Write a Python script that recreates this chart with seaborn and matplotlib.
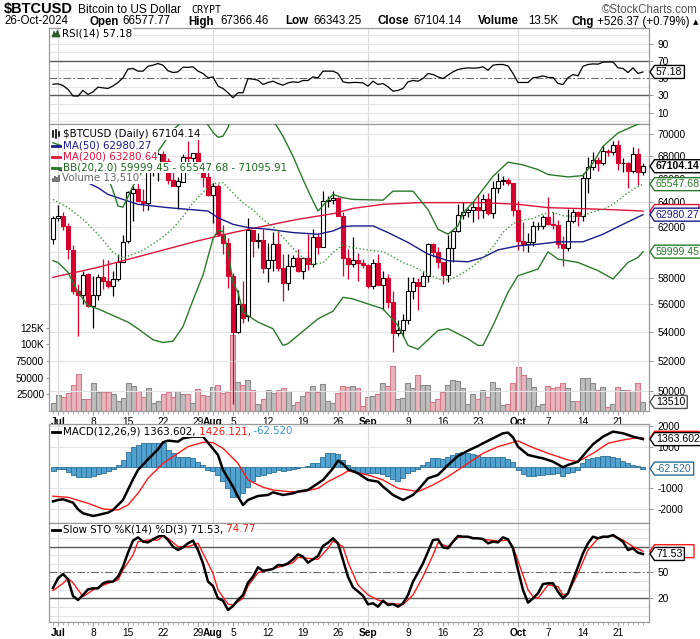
import numpy as np
import pandas as pd
import matplotlib
matplotlib.use("Agg")
import matplotlib.pyplot as plt
import seaborn as sns
from matplotlib.patches import Polygon, Rectangle
from matplotlib.lines import Line2D
from matplotlib.transforms import IdentityTransform
from matplotlib.ticker import NullLocator

# ---------------- data ----------------
start = pd.Timestamp("2024-06-30")
dates = pd.date_range("2024-06-30", "2024-10-26")

opens = [60999, 62673, 62845, 62034, 60148, 56997, 56659, 58240, 55850, 56705,
         58034, 57725, 57344, 57899, 59225, 60815, 64784, 65092, 64104, 63972,
         66709, 67164, 68153, 67585, 65928, 65376, 65771, 67911, 67809, 68259,
         66820, 66201, 64626, 65353, 61414, 60677, 58110, 53991, 56034, 55125,
         61728, 60881, 60945, 58719, 59356, 60611, 58733, 57561, 58889, 59478,
         58480, 59493, 59015, 61168, 60380, 64103, 64176, 64342, 62879, 59507,
         59027, 59388, 59117, 58969, 57326, 59107, 57430, 57971, 56160, 53949,
         54147, 54851, 57021, 57650, 57343, 58130, 60569, 60001, 59186, 58192,
         60310, 61652, 62941, 63184, 63348, 63580, 63339, 64263, 63138, 65180,
         65792, 65889, 65634, 63336, 60836, 60643, 60755, 62068, 62085, 62819,
         62225, 62132, 60581, 60274, 62446, 63192, 62849, 66050, 67042, 67617,
         67420, 68418, 68364, 69002, 67365, 67374, 66656, 68164, 66577.77]
highs = [62893, 63777, 63203, 62288, 60499, 57490, 58472, 58371, 58131, 58239,
         59434, 59359, 58527, 59850, 61329, 64950, 65354, 66066, 65113, 67442,
         67599, 68372, 68480, 67811, 67102, 66159, 68188, 69399, 68319, 70079,
         66987, 66810, 65660, 65596, 62148, 61064, 58310, 57059, 57726, 62673,
         61750, 61464, 61778, 60680, 61572, 61687, 59848, 59817, 59707, 60236,
         59612, 61396, 61820, 61408, 64947, 64513, 64996, 64489, 63210, 60236,
         61184, 59896, 59432, 59062, 59403, 59815, 58519, 58300, 56976, 54838,
         55301, 58042, 58029, 57991, 58534, 60648, 60657, 60381, 59186, 61316,
         61757, 63850, 64067, 63543, 64001, 64745, 64688, 64817, 65790, 66482,
         66255, 66068, 65635, 64130, 62357, 61470, 62464, 62371, 62974, 64479,
         63176, 62543, 61236, 63417, 63473, 63294, 66482, 67881, 68376, 67912,
         68969, 68667, 69400, 69488, 67816, 67449, 68841, 68708, 67366.46]
lows = [60632, 62495, 61753, 59419, 56777, 53717, 56038, 55793, 54321, 56317,
        57169, 57178, 56616, 57756, 59225, 60704, 62487, 64493, 63246, 63329,
        66222, 65842, 66591, 65546, 65461, 63456, 65732, 66705, 67066, 66482,
        65323, 64532, 62303, 61235, 59837, 57210, 49121, 53973, 54620, 54766,
        59587, 60287, 58348, 57689, 58506, 58472, 56227, 57098, 58786, 58442,
        57864, 58610, 58784, 59815, 60372, 63619, 63833, 62849, 58116, 57890,
        58786, 57768, 58745, 57218, 57136, 57425, 55607, 55712, 52598, 53745,
        53653, 54598, 56419, 55567, 57330, 57650, 59621, 58696, 57515, 57628,
        59210, 61566, 62637, 62784, 62409, 62602, 62700, 62947, 62670, 64810,
        65458, 65432, 62873, 60164, 60044, 59985, 60459, 61689, 61827, 62129,
        61846, 60304, 58895, 60085, 62284, 62058, 62442, 64809, 66758, 66647,
        67177, 68024, 68102, 66808, 66580, 65225, 66503, 65505, 66343.25]
closes = [62678, 62851, 62029, 60173, 56977, 56663, 58230, 55857, 56715, 58052,
          57725, 57344, 57899, 59231, 60787, 64870, 65097, 64118, 63974, 66710,
          67164, 68155, 67586, 65928, 65368, 65778, 67912, 67814, 68255, 66819,
          66201, 64620, 65357, 61416, 60680, 58116, 53991, 56034, 55027, 61710,
          60881, 60945, 58719, 59354, 60609, 58737, 57560, 58894, 59478, 58483,
          59493, 59012, 61175, 60381, 64094, 64178, 64333, 62880, 59504, 59027,
          59388, 59119, 58969, 57326, 59112, 57431, 57971, 56160, 53949, 54139,
          54842, 57019, 57648, 57343, 58127, 60571, 60005, 59182, 58192, 60309,
          61649, 62940, 63193, 63348, 63579, 63339, 64262, 63143, 65181, 65790,
          65887, 65635, 63329, 60837, 60632, 60759, 62067, 62089, 62818, 62236,
          62131, 60582, 60275, 62445, 63193, 62851, 66046, 67041, 67612, 67399,
          68418, 68362, 69001, 67368, 67377, 66684, 68161, 66642, 67104.14]
volumes = [11500, 24000, 21500, 26500, 39000, 55500, 18000, 18000, 41500, 29000,
           28000, 29000, 25000, 15000, 19000, 41500, 37500, 30000, 21500, 34000,
           12500, 15000, 25000, 29000, 21500, 30000, 25000, 26000, 11500, 33000,
           24000, 22500, 36000, 39000, 26500, 28000, 114000, 44000, 39000, 46500,
           31500, 10000, 18000, 31500, 26500, 31500, 34000, 30000, 9000, 14000,
           23000, 29000, 37500, 29000, 41000, 15000, 11500, 26500, 38000, 36000,
           37500, 34000, 7500, 21500, 23000, 25000, 42000, 38000, 67500, 17500,
           19000, 42000, 34000, 54000, 39000, 39000, 14000, 18000, 29000, 39000,
           46500, 45000, 34000, 10000, 25000, 18000, 31000, 21500, 43000, 34000,
           9000, 10000, 41500, 65500, 54000, 49000, 36500, 8000, 10000, 38000,
           34000, 35500, 41500, 34000, 15000, 15000, 49000, 50000, 42000, 31500,
           35500, 6500, 10000, 35500, 31500, 31500, 30000, 41500, 13510]

ma50_dates = ["06-30", "07-03", "07-07", "07-09", "07-11", "07-14", "07-17", "07-23", "07-27",
              "07-31", "08-02", "08-05", "08-08", "08-12", "08-17", "08-22", "08-25", "08-27",
              "08-29", "09-02", "09-05", "09-09", "09-13", "09-17", "09-21", "09-24", "09-27",
              "10-01", "10-05", "10-09", "10-14", "10-18", "10-22", "10-26"]
ma50 = [67000, 66500, 65660, 65240, 64670, 64250, 63840, 63560, 63420,
        63280, 62730, 62190, 61920, 61790, 61520, 61390, 61650, 62000,
        62060, 62060, 61520, 60730, 59810, 59290, 59210, 59550, 60140,
        60460, 60590, 60780, 60780, 61390, 62190, 62980.27]

ma200_dates = ["06-30", "07-09", "07-19", "07-29", "08-05", "08-12", "08-18", "08-25", "08-29",
               "09-04", "09-11", "09-17", "09-24", "10-01", "10-07", "10-14", "10-21", "10-26"]
ma200 = [58020, 58780, 59810, 60860, 61520, 62110, 62600, 63060, 63500,
         63840, 63980, 63980, 63980, 63840, 63560, 63480, 63370, 63280.64]

bbu_dates = ["06-30", "07-03", "07-06", "07-09", "07-11", "07-12", "07-13", "07-14", "07-16",
             "07-18", "07-20", "07-22", "07-24", "07-26", "07-28", "07-30", "08-01", "08-02",
             "08-03", "08-04", "08-05", "08-08", "08-11", "08-13", "08-15", "08-17", "08-19",
             "08-21", "08-22", "08-25", "08-27", "08-29", "09-04", "09-06", "09-10", "09-13",
             "09-15", "09-17", "09-19", "09-20", "09-22", "09-24", "09-26", "09-29", "10-02",
             "10-05", "10-07", "10-11", "10-14", "10-16", "10-18", "10-21", "10-24", "10-26"]
bb_upper = [69200, 68700, 68700, 67100, 66100, 65000, 63700, 63600, 65380,
            66800, 67780, 69070, 70370, 71230, 71680, 71500, 70150, 69700,
            69800, 70600, 72000, 73000, 72500, 71300, 69790, 67990, 65950,
            64110, 63280, 64670, 64390, 64250, 64190, 64950, 64950, 63400,
            61790, 61390, 62060, 63140, 63980, 65100, 66230, 67460, 67220,
            66810, 66380, 66170, 66290, 67390, 68880, 70090, 70700, 71095.91]

bbm_dates = ["06-30", "07-03", "07-06", "07-09", "07-12", "07-14", "07-16", "07-18", "07-20",
             "07-22", "07-24", "07-26", "07-28", "07-30", "08-01", "08-03", "08-05", "08-07",
             "08-09", "08-11", "08-13", "08-15", "08-17", "08-19", "08-21", "08-23", "08-25",
             "08-27", "08-29", "09-01", "09-04", "09-06", "09-08", "09-10", "09-13", "09-16",
             "09-18", "09-20", "09-22", "09-24", "09-26", "09-28", "09-30", "10-02", "10-04",
             "10-06", "10-08", "10-10", "10-12", "10-14", "10-16", "10-18", "10-20", "10-22",
             "10-24", "10-26"]
bb_mid = [64250, 63560, 62600, 61390, 59940, 59500, 59800, 60110, 60620,
          61170, 61870, 62810, 63990, 64850, 65590, 65690, 64800, 63950,
          63380, 62580, 62010, 61140, 60260, 59510, 59020, 59130, 59950,
          60520, 60310, 60130, 60010, 59600, 59150, 58870, 58240, 57780,
          57950, 58360, 58880, 59490, 60400, 61540, 62250, 62550, 62660,
          63040, 63160, 62900, 62830, 62900, 63210, 63420, 63840, 64500,
          65110, 65547.68]

bbl_dates = ["06-30", "07-01", "07-03", "07-05", "07-07", "07-09", "07-12", "07-15", "07-17",
             "07-20", "07-22", "07-24", "07-26", "07-28", "07-30", "08-01", "08-02", "08-03",
             "08-04", "08-05", "08-06", "08-07", "08-10", "08-13", "08-15", "08-16", "08-18",
             "08-22", "08-25", "08-27", "08-29", "08-31", "09-04", "09-07", "09-09", "09-11",
             "09-15", "09-17", "09-21", "09-23", "09-24", "09-26", "09-29", "10-01", "10-05",
             "10-07", "10-09", "10-13", "10-17", "10-20", "10-23", "10-25", "10-26"]
bb_lower = [59290, 59160, 58400, 56890, 55910, 55670, 55190, 54710, 54240,
            53460, 53270, 53370, 54390, 56310, 58200, 61030, 61700, 61600,
            60100, 57600, 56890, 55430, 54710, 54240, 53070, 53190, 53770,
            54950, 55500, 56520, 56400, 56150, 55670, 54470, 53070, 52800,
            54120, 54240, 53530, 53070, 53070, 54470, 56890, 58140, 58650,
            59990, 59420, 59160, 58530, 57890, 59160, 59550, 59999.45]

rsi = [43, 43.5, 41.5, 37, 29.5, 29.2, 35.8, 31.2, 34.2, 39.6,
       38.8, 38.1, 41, 45, 50.4, 60.5, 61.2, 58.1, 58.1, 63.8,
       65, 66.9, 65, 58.5, 56.5, 57.3, 62.7, 62.5, 63.1, 58.1,
       55.4, 50.4, 51.5, 40.8, 38.1, 33.1, 27.3, 33.1, 33.1, 49.6,
       48.8, 47.7, 42.7, 45, 46.5, 43.8, 41.9, 44.6, 45.8, 45,
       47.3, 47.3, 51.5, 50.4, 58.1, 58.1, 58.1, 55.4, 45.8, 44.6,
       45, 45, 44.5, 40.8, 46.5, 42.7, 43.8, 40, 35, 35.8,
       38.1, 45.8, 47.3, 46.5, 49.6, 55.4, 54.2, 51.5, 49.6, 53.5,
       57.3, 60, 61.2, 61.9, 61.5, 61.9, 63.1, 59.2, 65, 65.8,
       65.8, 64.2, 55.4, 45, 45, 45, 50.4, 51.2, 52.7, 50.8,
       50.8, 43.8, 42.7, 50.4, 54.2, 52.7, 63.8, 65.8, 66.5, 66.2,
       68.5, 68.8, 68.8, 61.9, 61.2, 56.5, 61.9, 55.4, 57.18]

macd_dates = ["06-30", "07-01", "07-02", "07-04", "07-05", "07-06", "07-08", "07-09", "07-11",
              "07-12", "07-14", "07-16", "07-17", "07-19", "07-21", "07-22", "07-23", "07-25",
              "07-26", "07-28", "07-30", "07-31", "08-02", "08-03", "08-05", "08-06", "08-07",
              "08-08", "08-10", "08-12", "08-13", "08-15", "08-17", "08-18", "08-20", "08-22",
              "08-23", "08-25", "08-26", "08-27", "08-28", "08-30", "09-01", "09-03", "09-04",
              "09-06", "09-08", "09-10", "09-11", "09-13", "09-15", "09-17", "09-19", "09-21",
              "09-23", "09-24", "09-26", "09-28", "09-29", "09-30", "10-01", "10-03", "10-05",
              "10-06", "10-08", "10-10", "10-11", "10-13", "10-15", "10-16", "10-18", "10-20",
              "10-22", "10-23", "10-24", "10-26"]
macd = [-1650, -1581, -1548, -1710, -2032, -2226, -2355, -2306, -2194,
        -2065, -1581, -581, -129, 387, 871, 1210, 1290, 1242,
        1403, 1484, 1484, 1194, 597, -129, -935, -1419, -1823,
        -1581, -1387, -1339, -1210, -1339, -1258, -1177, -1097, -774,
        -613, -48, 323, 161, -97, -290, -613, -694, -935,
        -1339, -1581, -1339, -1097, -532, -371, 113, 548, 806,
        1032, 1161, 1403, 1645, 1677, 1452, 1000, 597, 484,
        435, 274, 0, 113, 274, 839, 1113, 1484, 1726,
        1645, 1565, 1484, 1363.602]

signal_dates = ["06-30", "07-03", "07-07", "07-10", "07-13", "07-15", "07-17", "07-19", "07-22",
                "07-25", "07-27", "07-30", "08-01", "08-03", "08-06", "08-08", "08-11", "08-13",
                "08-16", "08-19", "08-22", "08-24", "08-27", "08-28", "09-01", "09-04", "09-07",
                "09-11", "09-14", "09-17", "09-21", "09-24", "09-27", "10-01", "10-04", "10-07",
                "10-11", "10-13", "10-16", "10-19", "10-22", "10-24", "10-26"]
signal = [-1400, -1452, -1742, -2016, -2065, -1823, -1258, -532, 194,
          677, 1000, 1210, 1194, 919, 194, -613, -968, -1097,
          -1177, -1177, -1016, -694, -323, -170, -371, -613, -1016,
          -1177, -855, -452, 194, 677, 1000, 1274, 952, 677,
          355, 274, 677, 1161, 1323, 1403, 1426.121]

macd_hist = [-161, -97, -97, -210, -371, -484, -484, -452, -419, -323,
             -290, -177, -97, 113, 355, 758, 1000, 1081, 1161, 1161,
             1194, 1194, 1161, 839, 710, 484, 484, 484, 435, 274,
             113, -129, -177, -371, -645, -1016, -1452, -1452, -1258, -968,
             -645, -419, -371, -290, -210, -129, -161, -129, -97, -48,
             32, 65, 194, 226, 516, 677, 710, 645, 355, 113,
             -129, -210, -258, -290, -290, -290, -323, -403, -581, -645,
             -532, -290, -161, -65, 113, 274, 435, 435, 387, 516,
             597, 710, 742, 710, 661, 597, 484, 484, 484, 484,
             484, 387, 274, -129, -323, -403, -403, -371, -371, -323,
             -323, -290, -403, -290, -210, -129, 194, 387, 435, 516,
             565, 548, 516, 468, 323, 226, 113, 65, -62.52]

sto_k = [32, 43.2, 48.3, 42.1, 22.7, 18.1, 23.9, 30.4, 31.6, 31.6,
         37.4, 39.4, 39.4, 45.2, 56.8, 73, 87, 90.8, 85.8, 85,
         88.5, 91.6, 93.5, 87.7, 80, 76.1, 79.2, 83.9, 87, 76.1,
         60.6, 39.4, 34.3, 20, 17.3, 6.4, 11.1, 18.1, 23.9, 38.2,
         45.2, 56, 52.1, 52.9, 54.1, 58.7, 58.3, 60.6, 65.3, 71.1,
         68.4, 61.4, 65.3, 69.2, 80.8, 84.6, 89.7, 83.9, 64.5, 45,
         32.8, 28, 23, 13, 14.2, 10.3, 17.3, 12.2, 13.4, 10.3,
         14.2, 23.9, 39.4, 49.8, 60.6, 74.2, 87.7, 88.5, 79.2, 78.1,
         85.8, 92.4, 91.6, 91.6, 89.7, 89.7, 88.9, 83.9, 85.8, 85,
         90.8, 88.5, 78.1, 52.9, 29.7, 15, 20, 25.8, 36.6, 37.4,
         37.4, 27.7, 20, 25.8, 41.3, 56.8, 72.3, 83.9, 91.6, 89.7,
         91.6, 91.6, 93.5, 89.7, 85.8, 76.1, 78.1, 73, 71.53]

sto_d_dates = ["06-30", "07-02", "07-03", "07-04", "07-06", "07-07", "07-08", "07-09", "07-11",
               "07-13", "07-14", "07-16", "07-17", "07-19", "07-21", "07-22", "07-23", "07-25",
               "07-27", "07-29", "07-30", "08-01", "08-02", "08-04", "08-05", "08-07", "08-08",
               "08-10", "08-12", "08-15", "08-17", "08-18", "08-20", "08-22", "08-24", "08-25",
               "08-27", "08-28", "08-30", "09-01", "09-03", "09-05", "09-07", "09-08", "09-10",
               "09-12", "09-14", "09-15", "09-17", "09-19", "09-21", "09-24", "09-27", "09-29",
               "09-30", "10-02", "10-03", "10-04", "10-05", "10-07", "10-09", "10-10", "10-11",
               "10-13", "10-15", "10-17", "10-20", "10-22", "10-24", "10-26"]
sto_d = [29, 37.4, 43.2, 38, 21.9, 25.8, 29.7, 32.8, 37.4,
         41.3, 52.9, 70.3, 85.8, 87.7, 87.7, 92.4, 89.7, 80,
         80, 83.9, 72.3, 49, 29.7, 13.4, 12.2, 20, 34.3,
         49.8, 52.9, 57.5, 61.4, 67.6, 66.5, 65.3, 78.1, 86.6,
         80, 62, 35.5, 23.9, 18.1, 14.2, 13.4, 12.6, 23.9,
         45.2, 70.3, 84.6, 80, 90.8, 91.6, 88.5, 86.6, 87.7,
         80, 47, 30, 21.9, 20, 35.5, 33.6, 23.9, 25.8,
         49, 76.1, 89.7, 92.4, 87.7, 80, 74.77]

xtick_dates = ["07-01", "07-08", "07-15", "07-22", "07-29", "08-01", "08-05", "08-12", "08-19",
               "08-26", "09-01", "09-09", "09-16", "09-23", "10-01", "10-07", "10-14", "10-21"]
xtick_labels = ["Jul", "8", "15", "22", "29", "Aug", "5", "12", "19",
                "26", "Sep", "9", "16", "23", "Oct", "7", "14", "21"]
month_labels = {"Jul", "Aug", "Sep", "Oct"}


def dx(lst):
    return [(pd.Timestamp("2024-" + d) - start).days for d in lst]


# ---------------- figure & axes ----------------
W, H = 700, 639
fig = plt.figure(figsize=(7, 6.39), dpi=100)
fig.patch.set_facecolor("white")
L, R = 49, 649


def rect(top, bottom):
    return [L / W, 1 - bottom / H, (R - L) / W, (bottom - top) / H]


ax_rsi = fig.add_axes(rect(28, 124))
ax_vol = fig.add_axes(rect(124, 411))
ax_px = fig.add_axes(rect(124, 411))
ax_macd = fig.add_axes(rect(424, 523))
ax_sto = fig.add_axes(rect(523, 622))
ax_px.patch.set_visible(False)

idx = np.arange(len(dates))
XL = (-0.8, 119.2)
FRAME = "#9a9a9a"
GRID = "#e4e4e4"
TICKFONT = dict(family=["Liberation Sans", "DejaVu Sans"], size=7.3)
month_pos = dx(["07-01", "08-01", "09-01", "10-01"])

for ax in (ax_rsi, ax_vol, ax_px, ax_macd, ax_sto):
    ax.set_xlim(*XL)
    for s in ax.spines.values():
        s.set_color(FRAME)
        s.set_linewidth(0.9)
    ax.tick_params(axis="both", colors="#888888", labelcolor="black", length=3, width=0.6)
    for m in month_pos:
        ax.axvline(m, color="#dadada", lw=0.8, zorder=0)

for s in ax_vol.spines.values():
    s.set_visible(False)

# ---------------- volume ----------------
vol_up = [closes[i] >= (closes[i - 1] if i > 0 else opens[0]) for i in range(len(closes))]
vfill = ["#bdbdbd" if u else "#e9b5bd" for u in vol_up]
vedge = ["#8a8a8a" if u else "#d5788a" for u in vol_up]
ax_vol.bar(idx, volumes, width=1.0, color=vfill, edgecolor=vedge, linewidth=0.8, zorder=1)
ax_vol.set_ylim(0, 430000)
ax_vol.set_yticks([25000, 50000, 75000, 100000, 125000])
ax_vol.set_yticklabels(["25000", "50000", "75000", "100K", "125K"], **TICKFONT)
ax_vol.tick_params(axis="y", length=2, pad=1.5)
ax_vol.set_xticks([])

# ---------------- price ----------------
ax_px.set_yscale("log")
ax_px.set_ylim(48700, 70920)
pt = list(range(50000, 70001, 2000))
ax_px.set_yticks(pt)
ax_px.yaxis.set_minor_locator(NullLocator())
# the 60000 label sits fully behind the BB-lower value tag in the reference
ax_px.set_yticklabels(["" if v == 60000 else str(v) for v in pt], **TICKFONT)
ax_px.yaxis.tick_right()
ax_px.tick_params(axis="y", length=3, pad=3)
for v in pt:
    ax_px.axhline(v, color=GRID, lw=0.8, zorder=0.5)

RED = "#d4002e"
for i in idx:
    o, h, l, c = opens[i], highs[i], lows[i], closes[i]
    up = c >= o
    col = "black" if up else RED
    ax_px.plot([i, i], [l, h], color=col, lw=0.9, zorder=2, solid_capstyle="butt")
    ax_px.add_patch(Rectangle((i - 0.37, min(o, c)), 0.74, max(abs(c - o), 1.0),
                              facecolor="white" if up else RED, edgecolor=col,
                              lw=0.8, zorder=2.5))

GREEN = "#2b7a2b"
sns.lineplot(x=dx(ma200_dates), y=ma200, ax=ax_px, color="#dc143c", lw=1.0, zorder=3)
sns.lineplot(x=dx(ma50_dates), y=ma50, ax=ax_px, color="#1c1c8c", lw=1.0, zorder=3)
sns.lineplot(x=dx(bbu_dates), y=bb_upper, ax=ax_px, color=GREEN, lw=1.0, zorder=3)
sns.lineplot(x=dx(bbl_dates), y=bb_lower, ax=ax_px, color=GREEN, lw=1.0, zorder=3)
sns.lineplot(x=dx(bbm_dates), y=bb_mid, ax=ax_px, color="#3d9a3d", lw=1.0,
             linestyle=(0, (1, 1.6)), zorder=3)
ax_px.set_ylim(48700, 70920)
ax_px.set_xlim(*XL)

# ---------------- RSI ----------------
ax_rsi.set_ylim(-3, 108)
for v in range(0, 101, 10):
    if v not in (30, 50, 70):
        ax_rsi.axhline(v, color=GRID, lw=0.8, zorder=0.5)
ax_rsi.axhline(70, color="#5a5a5a", lw=1.0, zorder=1)
ax_rsi.axhline(30, color="#5a5a5a", lw=1.0, zorder=1)
ax_rsi.axhline(50, color="#6a6a6a", lw=0.8, linestyle=(0, (7, 2, 1.5, 2)), zorder=1)
sns.lineplot(x=idx, y=rsi, ax=ax_rsi, color="black", lw=0.9, zorder=3)
ax_rsi.set_yticks([10, 30, 50, 70, 90])
ax_rsi.set_yticklabels(["10", "30", "50", "70", "90"], **TICKFONT)
ax_rsi.yaxis.tick_right()
ax_rsi.tick_params(axis="y", length=3, pad=3)
ax_rsi.set_xticks([])

# ---------------- MACD ----------------
ax_macd.set_ylim(-2695, 2095)
for v in (-2000, -1000, 1000, 2000):
    ax_macd.axhline(v, color=GRID, lw=0.8, zorder=0.5)
ax_macd.bar(idx, macd_hist, width=1.0, color="#52a2cf", edgecolor="#2d6e98", linewidth=0.6, zorder=1)
sns.lineplot(x=dx(signal_dates), y=signal, ax=ax_macd, color="#ff1a1a", lw=1.0, zorder=3)
sns.lineplot(x=dx(macd_dates), y=macd, ax=ax_macd, color="black", lw=1.8, zorder=4)
ax_macd.set_yticks([-2000, -1000, 1000, 2000])
ax_macd.set_yticklabels(["-2000", "-1000", "1000", "2000"], **TICKFONT)
ax_macd.yaxis.tick_right()
ax_macd.tick_params(axis="y", length=3, pad=3)
ax_macd.set_xlim(*XL)

# ---------------- Slow STO ----------------
ax_sto.set_ylim(-7.5, 107.5)
for v in range(0, 101, 10):
    if v not in (20, 50, 80):
        ax_sto.axhline(v, color=GRID, lw=0.8, zorder=0.5)
ax_sto.axhline(80, color="#5a5a5a", lw=1.0, zorder=1)
ax_sto.axhline(20, color="#5a5a5a", lw=1.0, zorder=1)
ax_sto.axhline(50, color="#6a6a6a", lw=0.8, linestyle=(0, (7, 2, 1.5, 2)), zorder=1)
sns.lineplot(x=dx(sto_d_dates), y=sto_d, ax=ax_sto, color="#ff1a1a", lw=1.0, zorder=3)
sns.lineplot(x=idx, y=sto_k, ax=ax_sto, color="black", lw=1.8, zorder=4)
ax_sto.set_yticks([20, 50, 80])
# the "80" label is covered by the %K / %D value tags in the reference
ax_sto.set_yticklabels(["20", "50", ""], **TICKFONT)
ax_sto.yaxis.tick_right()
ax_sto.tick_params(axis="y", length=3, pad=3)

# ---------------- x axes ----------------
xpos = dx(xtick_dates)
for ax in (ax_rsi, ax_macd):
    ax.set_xticks([])
for ax in (ax_px, ax_sto):
    ax.set_xticks(xpos)
    ax.set_xticklabels(xtick_labels, **TICKFONT)
    for t in ax.get_xticklabels():
        if t.get_text() in month_labels:
            t.set_fontweight("bold")
    ax.set_xticks(idx, minor=True)
    ax.tick_params(axis="x", which="major", length=3, pad=1.5, colors="#888888", labelcolor="black")
    ax.tick_params(axis="x", which="minor", length=2, width=0.5, colors="#999999")
    ax.set_xlim(*XL)
for ax in (ax_rsi, ax_px, ax_macd, ax_sto, ax_vol):
    ax.set_xlabel("")
    ax.set_ylabel("")

# ---------------- overlay texts ----------------
renderer = fig.canvas.get_renderer()
ID = IdentityTransform()
LEG = dict(family=["DejaVu Sans"], size=7.4)


def D(y):
    return H - y


def chain(x, y, parts, **kw):
    for s, c in parts:
        t = fig.text(x, D(y), s, transform=ID, color=c, va="center", ha="left", zorder=8,
                     bbox=dict(facecolor="white", edgecolor="none", pad=0.4), **kw)
        x = t.get_window_extent(renderer).x1
    return x


def dash(y, color):
    fig.add_artist(Line2D([52, 60], [D(y), D(y)], transform=ID, color=color, lw=2.0, zorder=9))


# RSI legend
fig.add_artist(Polygon([(52, D(37)), (54, D(31)), (55.5, D(34)), (57.5, D(30)), (60, D(37))],
                       closed=True, transform=ID, facecolor="#2d5a2d", edgecolor="#2d5a2d", lw=0.5, zorder=9))
chain(62, 33, [("RSI(14) 57.18", "black")], **LEG)

# price legend
for bx, by0, by1 in [(53, 131, 137), (56, 130, 138), (59, 132, 136)]:
    fig.add_artist(Line2D([bx, bx], [D(by1), D(by0)], transform=ID, color="black", lw=1.2, zorder=9))
chain(63, 134, [("$BTCUSD (Daily) 67104.14", "black")], **LEG)
dash(145.5, "#1c1c8c")
chain(63, 145.5, [("MA(50) 62980.27", "#1c1c8c")], **LEG)
dash(156.5, "#dc143c")
chain(63, 156.5, [("MA(200) 63280.64", "#dc143c")], **LEG)
dash(167.5, GREEN)
chain(63, 167.5, [("BB(20,2.0) 59999.45 - 65547.68 - 71095.91", "#1f6a1f")], **LEG)
for bx, bh in [(53, 4), (55, 6), (57, 5), (59, 7)]:
    fig.add_artist(Rectangle((bx - 0.8, D(182)), 1.6, bh, transform=ID, facecolor="#777777",
                             edgecolor="none", zorder=9))
chain(62, 178, [("Volume 13,510", "#666666")], **LEG)

# MACD legend
dash(431.5, "black")
chain(63, 431.5, [("MACD(12,26,9) 1363.602,", "black"), (" 1426.121,", "#ff1a1a"),
                  (" -62.520", "#3a92c8")], **LEG)

# STO legend
dash(529.5, "black")
chain(63, 529.5, [("Slow STO %K(14) %D(3) 71.53,", "black"), (" 74.77", "#ff1a1a")], **LEG)


# right-side value tags
def tag(ax, val, text, edge, tcolor, z, bold=False, width=None):
    yd = ax.transData.transform((0, val))[1]
    if text:
        t = fig.text(656, yd, text, transform=ID, ha="left", va="center", color=tcolor,
                     fontweight="bold" if bold else "normal", zorder=z + 0.05,
                     family=["Liberation Sans", "DejaVu Sans"], size=7.6)
        w = t.get_window_extent(renderer).width
    else:
        w = width
    x1 = 656 + w + 2
    h = 6.5
    fig.add_artist(Polygon([(650, yd), (654.5, yd + h), (x1, yd + h), (x1, yd - h), (654.5, yd - h)],
                           closed=True, transform=ID, facecolor="white", edgecolor=edge, lw=1.0, zorder=z))


tag(ax_rsi, 57.18, "57.18", "black", "black", 10)
tag(ax_px, 63280.64, None, "#dc143c", "#dc143c", 10, width=41)   # hidden behind the MA(50) tag
tag(ax_px, 62980.27, "62980.27", "#1c1c8c", "#1c1c8c", 11)
tag(ax_px, 65547.68, "65547.68", "#2b7a2b", "#2b7a2b", 11)
tag(ax_px, 59999.45, "59999.45", "#2b7a2b", "#2b7a2b", 11)
tag(ax_px, 67104.14, "67104.14", "black", "black", 12, bold=True)
tag(ax_vol, 13510, "13510", "#555555", "black", 11)
tag(ax_macd, 1426.121, None, "#ff1a1a", "#ff1a1a", 10, width=41)  # hidden behind the MACD tag
tag(ax_macd, 1363.602, "1363.602", "black", "black", 11)
tag(ax_macd, -62.52, "-62.520", "#2d6e98", "#2d6e98", 11)
tag(ax_sto, 74.77, None, "#ff1a1a", "#ff1a1a", 10, width=36)     # hidden behind the %K tag
tag(ax_sto, 71.53, "71.53", "black", "black", 11)

# ---------------- header ----------------
HF = ["Liberation Sans", "DejaVu Sans"]
fig.text(4, D(9.5), "$BTCUSD", transform=ID, ha="left", va="center", fontsize=10.5,
         fontweight="bold", family=HF)
fig.text(78, D(10), "Bitcoin to US Dollar", transform=ID, ha="left", va="center", fontsize=8.6, family=HF)
fig.text(191, D(10), "CRYPT", transform=ID, ha="left", va="center", fontsize=7.2,
         family=["DejaVu Sans Mono"])
fig.text(698, D(10), "©StockCharts.com", transform=ID, ha="right", va="center", fontsize=8.3,
         color="#555555", family=HF)
row2 = [(4, "26-Oct-2024", False), (90, "Open", True), (122, "66577.77", False),
        (188, "High", True), (220, "67366.46", False), (285, "Low", True),
        (313, "66343.25", False), (377, "Close", True), (413, "67104.14", False),
        (478, "Volume", True), (528, "13.5K", False), (571, "Chg", True),
        (597, "+526.37 (+0.79%)", False)]
for x, s, b in row2:
    fig.text(x, D(21.5), s, transform=ID, ha="left", va="center", fontsize=8.3,
             fontweight="bold" if b else "normal", family=HF)
fig.text(693, D(22), "▲", transform=ID, ha="left", va="center", fontsize=5, family=["DejaVu Sans"])

fig.savefig("out.png", dpi=100, facecolor="white")
